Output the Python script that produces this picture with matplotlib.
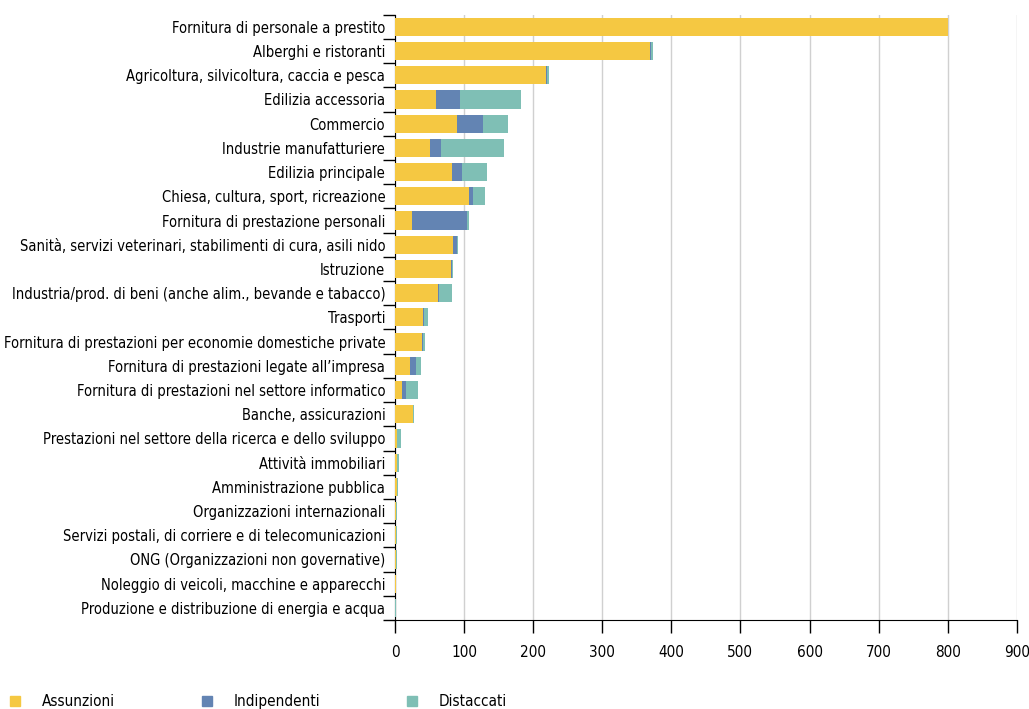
import matplotlib.pyplot as plt
from matplotlib.patches import Rectangle
import numpy as np

plt.rcParams["font.family"] = ["DejaVu Sans"]
plt.rcParams["font.stretch"] = "condensed"

CATEGORIES = [
    "Fornitura di personale a prestito",
    "Alberghi e ristoranti",
    "Agricoltura, silvicoltura, caccia e pesca",
    "Edilizia accessoria",
    "Commercio",
    "Industrie manufatturiere",
    "Edilizia principale",
    "Chiesa, cultura, sport, ricreazione",
    "Fornitura di prestazione personali",
    "Sanità, servizi veterinari, stabilimenti di cura, asili nido",
    "Istruzione",
    "Industria/prod. di beni (anche alim., bevande e tabacco)",
    "Trasporti",
    "Fornitura di prestazioni per economie domestiche private",
    "Fornitura di prestazioni legate all’impresa",
    "Fornitura di prestazioni nel settore informatico",
    "Banche, assicurazioni",
    "Prestazioni nel settore della ricerca e dello sviluppo",
    "Attività immobiliari",
    "Amministrazione pubblica",
    "Organizzazioni internazionali",
    "Servizi postali, di corriere e di telecomunicazioni",
    "ONG (Organizzazioni non governative)",
    "Noleggio di veicoli, macchine e apparecchi",
    "Produzione e distribuzione di energia e acqua",
]

ASSUNZIONI = [801, 369, 219, 60, 90, 50, 83, 107, 24, 84, 81, 62, 41, 39.5, 21.5,
              10, 26, 2.5, 3.3, 3, 1, 1.5, 1, 1, 0.3]
INDIPENDENTI = [0, 1, 1, 34, 38, 16, 14, 6, 80, 6, 2, 1, 1.5, 0.5, 8.5,
                6, 0, 0.5, 0, 0, 0, 0, 0, 0, 0]
DISTACCATI = [0, 3.5, 3, 89, 35, 92, 36, 17, 2.5, 1.5, 0.5, 20, 4.5, 3.5, 7.5,
              17.5, 2, 6, 2.5, 2, 1.5, 1.5, 1.5, 0.3, 1.5]

SERIES = ["Assunzioni", "Indipendenti", "Distaccati"]
COLORS = ["#F5C842", "#6384B3", "#7FBFB5"]
X_TICKS = list(range(0, 1000, 100))

fig = plt.figure(figsize=(10.29, 7.09), dpi=100)
ax = fig.add_axes([0.3839, 0.1255, 0.6042, 0.8537])

y = np.arange(len(CATEGORIES))
left = np.zeros(len(CATEGORIES))
for vals, color in zip([ASSUNZIONI, INDIPENDENTI, DISTACCATI], COLORS):
    ax.barh(y, vals, left=left, height=0.75, color=color, zorder=3)
    left += np.array(vals)

ax.set_ylim(len(CATEGORIES) - 0.5, -0.5)
ax.set_xlim(0, 900)
ax.set_xticks(X_TICKS)
ax.set_xticklabels([str(t) for t in X_TICKS], fontsize=11)
ax.set_yticks(y)
ax.set_yticklabels(CATEGORIES, fontsize=10.5)
# category separators drawn as minor ticks
ax.set_yticks(np.arange(-0.5, len(CATEGORIES)), minor=True)
ax.tick_params(axis="y", which="major", length=0, pad=7)
ax.tick_params(axis="y", which="minor", length=9, width=1, direction="out")
ax.tick_params(axis="x", length=9, width=1, direction="out", pad=9)

ax.grid(axis="x", color="#d0d0d0", linewidth=1, zorder=0)
for side in ["top", "right"]:
    ax.spines[side].set_visible(False)

# legend along the bottom
legend_x = [0.0097, 0.1963, 0.3955]
for name, color, lx in zip(SERIES, COLORS, legend_x):
    fig.add_artist(Rectangle((lx, 0.0042), 0.0102, 0.0148, transform=fig.transFigure,
                             color=color))
    fig.text(lx + 0.0308, 0.0045, name, fontsize=11, va="baseline", ha="left")

fig.savefig("out.png", dpi=100)
